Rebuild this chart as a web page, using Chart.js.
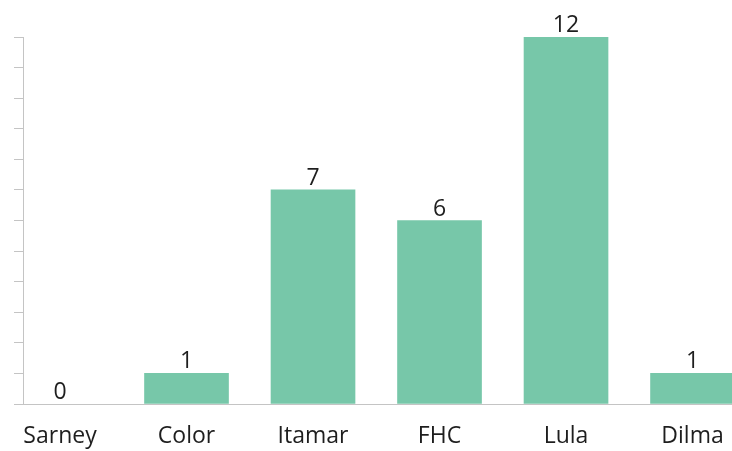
<!DOCTYPE html>
<html>
<head>
<meta charset="utf-8">
<script src="https://cdn.jsdelivr.net/npm/chart.js@4/dist/chart.umd.min.js"></script>
<style>
  html, body { margin: 0; padding: 0; background: #fff; }
  canvas { display: block; }
</style>
</head>
<body>
<canvas id="chart" width="732" height="451"></canvas>
<script>
const labels = ["Sarney", "Color", "Itamar", "FHC", "Lula", "Dilma"];
const values = [0, 1, 7, 6, 12, 1];
const yMax = 12;

const FONT = "'Open Sans', sans-serif";

// numbers above each bar
const barValues = {
  id: "barValues",
  afterDatasetsDraw(chart) {
    const ctx = chart.ctx;
    const meta = chart.getDatasetMeta(0);
    ctx.save();
    ctx.font = "23px " + FONT;
    ctx.fillStyle = "#1e1e1e";
    ctx.textAlign = "center";
    ctx.textBaseline = "alphabetic";
    meta.data.forEach((bar, i) => {
      ctx.fillText(String(values[i]), bar.x, bar.y - 5);
    });
    ctx.restore();
  }
};

new Chart(document.getElementById("chart"), {
  type: "bar",
  data: {
    datasets: [{
      data: values.map((v, i) => ({ x: i, y: v })),
      backgroundColor: values.map(v => v === 0 ? "rgba(0,0,0,0)" : "#77c7a9"),
      borderWidth: 0,
      barThickness: 84
    }]
  },
  options: {
    responsive: false,
    animation: false,
    layout: { padding: { top: 37, left: 14, right: 0, bottom: 0 } },
    plugins: { legend: { display: false }, tooltip: { enabled: false } },
    scales: {
      x: {
        type: "linear",
        offset: false,
        min: -0.2925,
        max: 5.312,
        afterBuildTicks: s => { s.ticks = labels.map((_, i) => ({ value: i })); },
        afterFit: s => { s.height = 47; s.paddingLeft = 0; s.paddingRight = 0; },
        grid: { offset: false, drawOnChartArea: false, drawTicks: false },
        border: { color: "#c4c4c4", width: 1 },
        ticks: {
          autoSkip: false,
          maxRotation: 0,
          padding: 19,
          color: "#1e1e1e",
          font: { family: FONT, size: 23 },
          callback: v => labels[v]
        }
      },
      y: {
        min: 0,
        max: yMax,
        ticks: { display: false, stepSize: 1 },
        grid: { drawOnChartArea: false, drawTicks: true, tickLength: 9, color: "#c4c4c4" },
        border: { color: "#c4c4c4", width: 1 }
      }
    }
  },
  plugins: [barValues]
});
</script>
</body>
</html>
